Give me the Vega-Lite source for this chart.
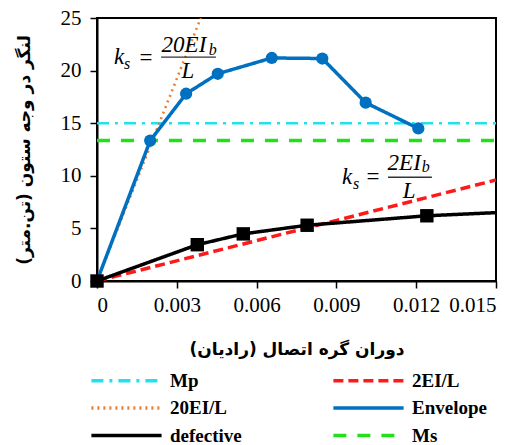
{
  "$schema": "https://vega.github.io/schema/vega-lite/v6.json",
  "width": 399,
  "height": 263,
  "autosize": {"type": "none"},
  "padding": {"left": 97, "top": 18, "right": 23, "bottom": 164},
  "background": "white",
  "config": {
    "view": {"stroke": "black", "strokeWidth": 2}
  },
  "datasets": {
    "curves": [
      {"series": "Mp", "x": 0, "y": 15},
      {"series": "Mp", "x": 0.015, "y": 15},
      {"series": "Ms", "x": 0, "y": 13.35},
      {"series": "Ms", "x": 0.015, "y": 13.35},
      {"series": "2EI/L", "x": 0, "y": 0},
      {"series": "2EI/L", "x": 0.015, "y": 9.6},
      {"series": "20EI/L", "x": 0, "y": 0},
      {"series": "20EI/L", "x": 0.0039, "y": 25},
      {"series": "Envelope", "x": 0, "y": 0},
      {"series": "Envelope", "x": 0.002, "y": 13.35},
      {"series": "Envelope", "x": 0.00335, "y": 17.8},
      {"series": "Envelope", "x": 0.00454, "y": 19.7},
      {"series": "Envelope", "x": 0.00657, "y": 21.2},
      {"series": "Envelope", "x": 0.00847, "y": 21.15},
      {"series": "Envelope", "x": 0.0101, "y": 16.95},
      {"series": "Envelope", "x": 0.01208, "y": 14.5},
      {"series": "defective", "x": 0, "y": 0},
      {"series": "defective", "x": 0.00377, "y": 3.45},
      {"series": "defective", "x": 0.0055, "y": 4.48},
      {"series": "defective", "x": 0.0079, "y": 5.3},
      {"series": "defective", "x": 0.0124, "y": 6.2},
      {"series": "defective", "x": 0.015, "y": 6.5}
    ],
    "labels": [
      {"kind": "main", "text": "k", "x": 0.00083, "y": 21.33},
      {"kind": "sub", "text": "s", "x": 0.00113, "y": 20.67},
      {"kind": "upright", "text": "=", "x": 0.00184, "y": 21.24},
      {"kind": "main", "text": "20EI", "x": 0.00327, "y": 22.48},
      {"kind": "sub", "text": "b", "x": 0.00435, "y": 22.0},
      {"kind": "main", "text": "L", "x": 0.00342, "y": 20.0},
      {"kind": "main", "text": "k", "x": 0.0094, "y": 9.9},
      {"kind": "sub", "text": "s", "x": 0.00974, "y": 9.24},
      {"kind": "upright", "text": "=", "x": 0.01038, "y": 9.86},
      {"kind": "main", "text": "2EI", "x": 0.01155, "y": 11.24},
      {"kind": "sub", "text": "b", "x": 0.01236, "y": 10.86},
      {"kind": "main", "text": "L", "x": 0.01173, "y": 8.57}
    ],
    "bars": [
      {"x": 0.00241, "x2": 0.00447, "y": 21.29},
      {"x": 0.01094, "x2": 0.01259, "y": 9.86}
    ]
  },
  "layer": [
    {
      "data": {"name": "curves"},
      "mark": {"type": "line", "clip": true},
      "encoding": {
        "x": {
          "field": "x", "type": "quantitative",
          "scale": {"domain": [0, 0.015], "nice": false},
          "axis": {
            "values": [0, 0.003, 0.006, 0.009, 0.012, 0.015], "format": ".3~f",
            "title": "دوران گره اتصال (رادیان)",
            "grid": false, "domainColor": "black", "domainWidth": 2, "tickColor": "black", "tickWidth": 1.5, "tickSize": 7,
            "labelFont": "Liberation Serif, serif", "labelFontSize": 21, "labelColor": "black", "labelPadding": 6,
            "titleFont": "DejaVu Sans", "titleFontWeight": "bold", "titleFontSize": 17, "titleColor": "black", "titlePadding": 26
          }
        },
        "y": {
          "field": "y", "type": "quantitative",
          "scale": {"domain": [0, 25], "nice": false},
          "axis": {
            "values": [0, 5, 10, 15, 20, 25],
            "title": "لنگر در وجه ستون (تن.متر)",
            "grid": false, "domainColor": "black", "domainWidth": 2, "tickColor": "black", "tickWidth": 1.5, "tickSize": 7,
            "labelFont": "Liberation Serif, serif", "labelFontSize": 21, "labelColor": "black", "labelPadding": 9,
            "titleFont": "DejaVu Sans", "titleFontWeight": "bold", "titleFontSize": 17, "titleColor": "black", "titlePadding": 27
          }
        },
        "color": {
          "field": "series", "type": "nominal",
          "scale": {
            "domain": ["Mp", "20EI/L", "defective", "2EI/L", "Envelope", "Ms"],
            "range": ["#22E0F0", "#ED7D31", "#000000", "#FF1A1A", "#0070C0", "#22E01A"]
          },
          "legend": {
            "title": null,
            "orient": "none",
            "legendX": 14,
            "legendY": 347,
            "columns": 2,
            "symbolType": "M-2.6,0H2.6",
            "symbolSize": 729,
            "symbolStrokeWidth": 3.5,
            "symbolFillColor": "transparent",
            "labelFont": "Liberation Serif",
            "labelFontWeight": "bold",
            "labelFontSize": 19,
            "labelColor": "black",
            "labelOffset": 28,
            "columnPadding": 84,
            "rowPadding": 1.5
          }
        },
        "strokeDash": {
          "field": "series", "type": "nominal",
          "scale": {
            "domain": ["Mp", "20EI/L", "defective", "2EI/L", "Envelope", "Ms"],
            "range": [[12, 6, 3, 6], [2, 4], [1, 0], [10, 5], [1, 0], [13, 11]]
          },
          "legend": {
            "title": null,
            "orient": "none",
            "legendX": 14,
            "legendY": 347,
            "columns": 2,
            "symbolType": "M-2.6,0H2.6",
            "symbolSize": 729,
            "symbolStrokeWidth": 3.5,
            "symbolFillColor": "transparent",
            "labelFont": "Liberation Serif",
            "labelFontWeight": "bold",
            "labelFontSize": 19,
            "labelColor": "black",
            "labelOffset": 28,
            "columnPadding": 84,
            "rowPadding": 1.5
          }
        },
        "strokeWidth": {
          "condition": {"test": "datum.series == 'Mp' || datum.series == '20EI/L'", "value": 2.6},
          "value": 3.5
        }
      }
    },
    {
      "data": {"name": "curves"},
      "transform": [{"filter": "datum.series == 'Envelope'"}],
      "mark": {"type": "point", "shape": "circle", "filled": true, "size": 150, "color": "#0070C0", "opacity": 1},
      "encoding": {
        "x": {"field": "x", "type": "quantitative"},
        "y": {"field": "y", "type": "quantitative"}
      }
    },
    {
      "data": {"name": "curves"},
      "transform": [{"filter": "datum.series == 'defective' && datum.x < 0.015"}],
      "mark": {"type": "point", "shape": "square", "filled": true, "size": 180, "color": "#000000", "opacity": 1},
      "encoding": {
        "x": {"field": "x", "type": "quantitative"},
        "y": {"field": "y", "type": "quantitative"}
      }
    },
    {
      "data": {"name": "bars"},
      "mark": {"type": "rule", "color": "#333333", "strokeWidth": 1.3},
      "encoding": {
        "x": {"field": "x", "type": "quantitative"},
        "x2": {"field": "x2"},
        "y": {"field": "y", "type": "quantitative"}
      }
    },
    {
      "data": {"name": "labels"},
      "transform": [{"filter": "datum.kind == 'main'"}],
      "mark": {"type": "text", "font": "Liberation Serif", "fontStyle": "italic", "fontSize": 23, "baseline": "middle", "align": "center", "color": "black"},
      "encoding": {
        "x": {"field": "x", "type": "quantitative"},
        "y": {"field": "y", "type": "quantitative"},
        "text": {"field": "text"}
      }
    },
    {
      "data": {"name": "labels"},
      "transform": [{"filter": "datum.kind == 'sub'"}],
      "mark": {"type": "text", "font": "Liberation Serif", "fontStyle": "italic", "fontSize": 16, "baseline": "middle", "align": "center", "color": "black"},
      "encoding": {
        "x": {"field": "x", "type": "quantitative"},
        "y": {"field": "y", "type": "quantitative"},
        "text": {"field": "text"}
      }
    },
    {
      "data": {"name": "labels"},
      "transform": [{"filter": "datum.kind == 'upright'"}],
      "mark": {"type": "text", "font": "Liberation Serif", "fontSize": 23, "baseline": "middle", "align": "center", "color": "black"},
      "encoding": {
        "x": {"field": "x", "type": "quantitative"},
        "y": {"field": "y", "type": "quantitative"},
        "text": {"field": "text"}
      }
    }
  ]
}
